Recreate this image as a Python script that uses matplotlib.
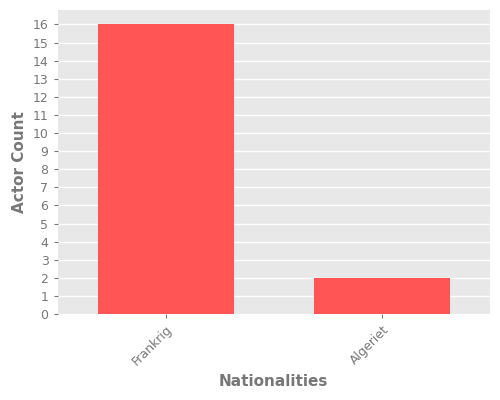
import matplotlib
matplotlib.use('Agg')
import matplotlib.pyplot as plt

categories = ['Frankrig', 'Algeriet']
counts = [16, 2]

fig, ax = plt.subplots(figsize=(5, 4), dpi=100)
fig.subplots_adjust(left=0.115, right=0.98, top=0.975, bottom=0.215)
ax.set_facecolor('#e8e8e8')
ax.bar(categories, counts, color='#ff5555', width=0.63, zorder=3)
ax.set_yticks(range(0, 17))
ax.set_ylim(0, 16.8)
ax.set_xlim(-0.5, 1.5)
ax.grid(axis='y', color='white', linewidth=1, zorder=0)
for s in ax.spines.values():
    s.set_visible(False)
ax.tick_params(colors='#777777', labelsize=9, length=3)
plt.setp(ax.get_xticklabels(), rotation=45, ha='right', rotation_mode='anchor')
ax.set_xlabel('Nationalities', color='#777777', fontsize=11, fontweight='bold')
ax.set_ylabel('Actor Count', color='#777777', fontsize=11, fontweight='bold')
fig.savefig('out.png')
